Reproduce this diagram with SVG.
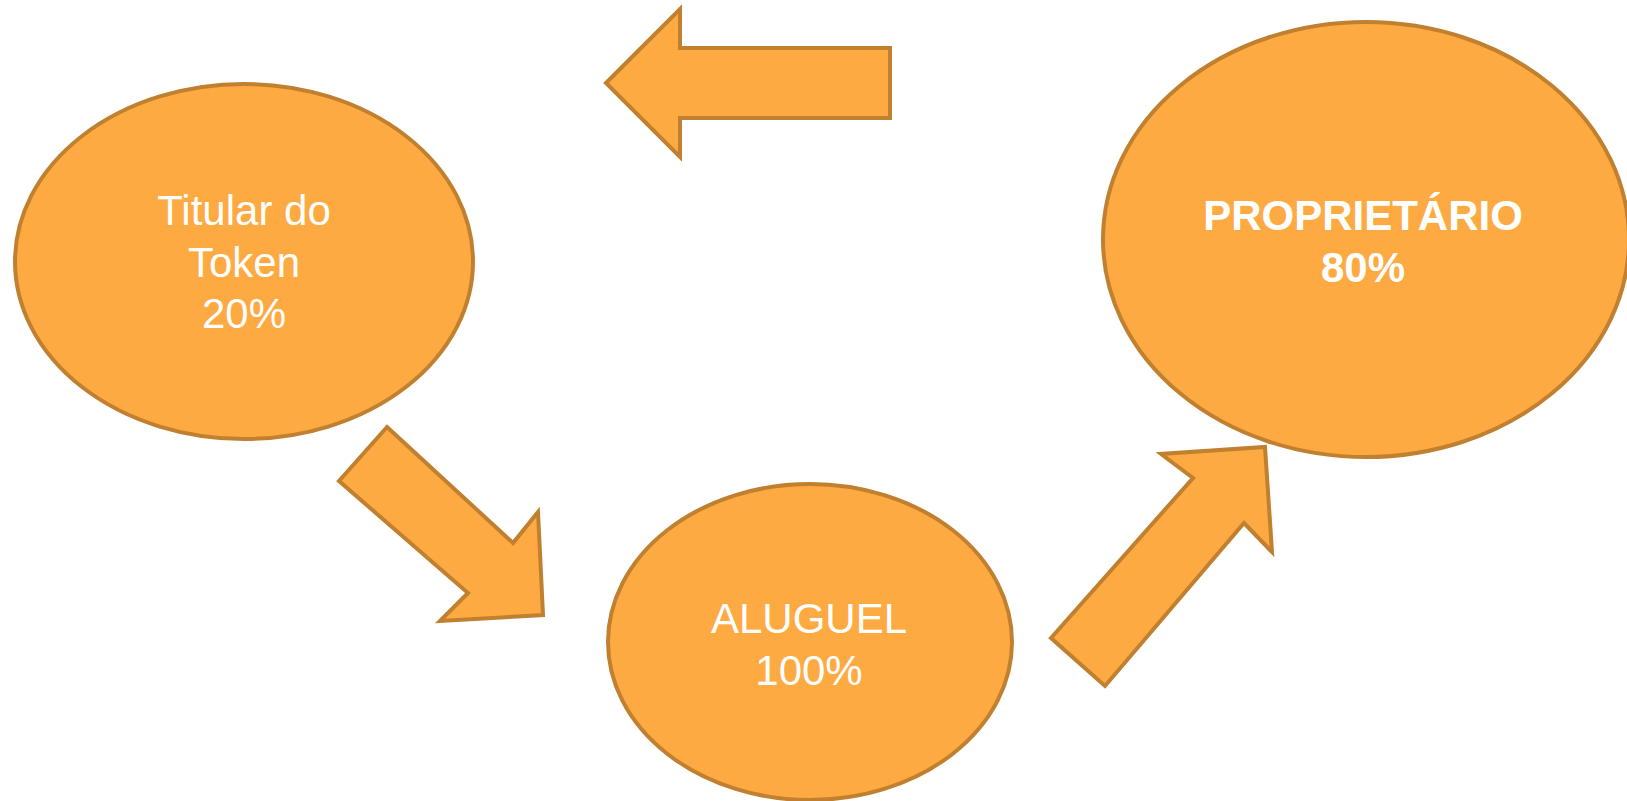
<svg xmlns="http://www.w3.org/2000/svg" width="1627" height="801" viewBox="0 0 1627 801">
<style>
.shape{fill:#FEAA42;stroke:#C0802F;stroke-width:4;stroke-linejoin:miter}
.t{fill:#FFFFFF;font-family:"Liberation Sans",Arial,sans-serif;font-size:42px;text-anchor:middle}
.b{font-weight:bold;font-size:42px}
</style>
<rect width="1627" height="801" fill="#FFFFFF"/>
<g id="connectors">
<polygon class="shape" points="606,83 680,9 680,48 890,48 890,118 680,118 680,157"/>
<polygon class="shape" points="387,427 513,543 538,512 543,615 440,621 468,593 339,481"/>
<polygon class="shape" points="1051,638 1193,478 1161,454 1265,447 1272,552 1244,523 1105,686"/>
</g>
<g id="node-titular">
<ellipse class="shape" cx="244" cy="261.5" rx="229" ry="177.5"/>
<text class="t" x="244" y="225">Titular do</text>
<text class="t" x="244" y="277">Token</text>
<text class="t" x="244" y="328">20%</text>
</g>
<g id="node-aluguel">
<ellipse class="shape" cx="810" cy="642" rx="202" ry="158"/>
<text class="t" x="809" y="633">ALUGUEL</text>
<text class="t" x="809" y="685">100%</text>
</g>
<g id="node-proprietario">
<ellipse class="shape" cx="1366" cy="239.5" rx="263" ry="217.5"/>
<text class="t b" x="1363" y="230">PROPRIETÁRIO</text>
<text class="t b" x="1363" y="282">80%</text>
</g>
</svg>
